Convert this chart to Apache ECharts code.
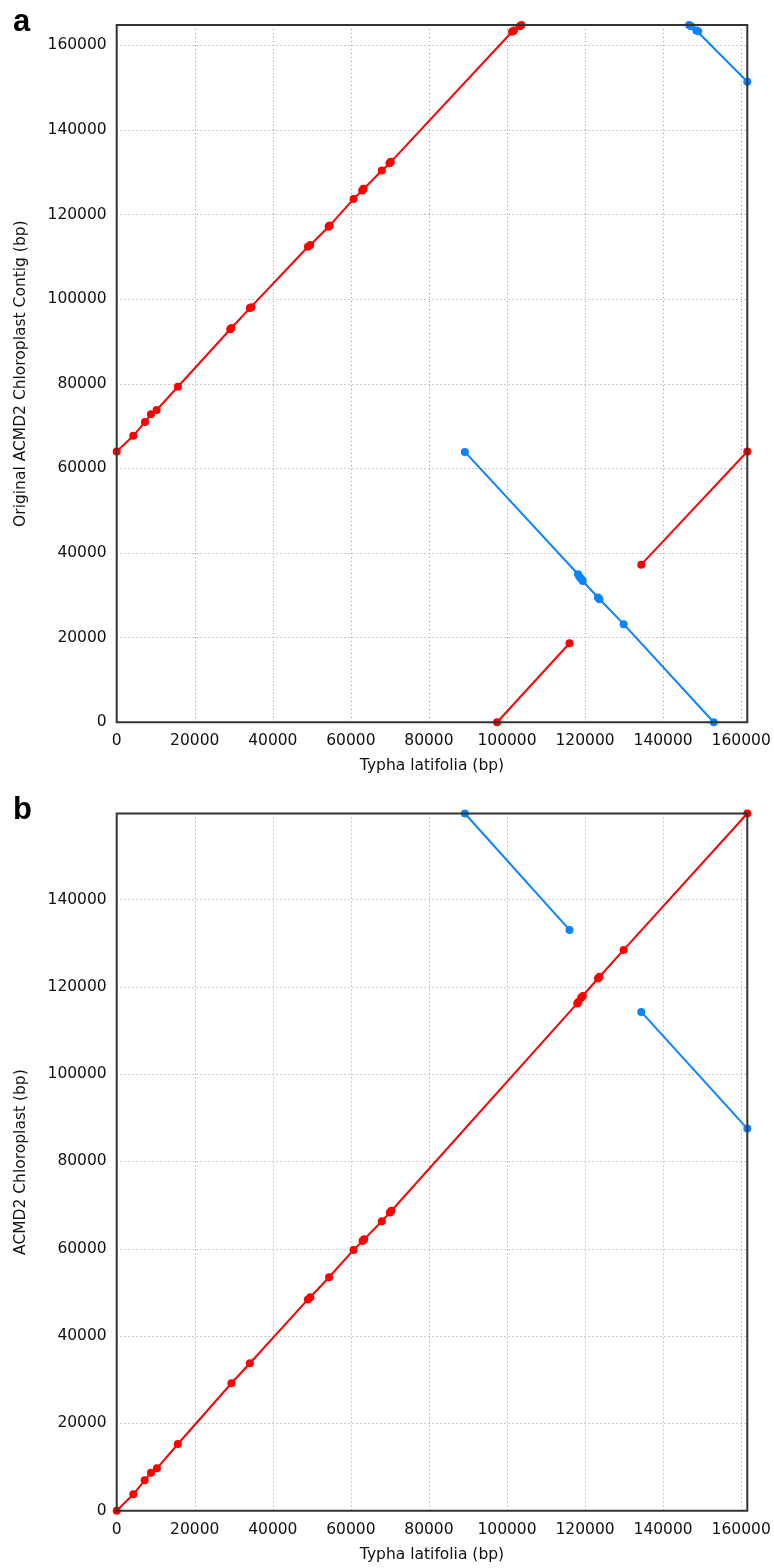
<!DOCTYPE html>
<html>
<head>
<meta charset="utf-8">
<script src="https://cdn.jsdelivr.net/npm/echarts@6/dist/echarts.min.js"></script>
<style>
html,body{margin:0;padding:0;background:#fff;}
#chart{width:774px;height:1568px;}
</style>
</head>
<body>
<div id="chart"></div>
<script>
// ---- Data ----
const X_MAX = 161572;          // Typha latifolia (bp)
const A_Y_MAX = 164800;        // Original ACMD2 Chloroplast Contig (bp)
const B_Y_MAX = 159700;        // ACMD2 Chloroplast (bp)
const TICK_STEP = 20000;

// Panel a
const A_RED_MAIN = [[0,64000],[4260,67700],[7250,71000],[8780,72800],[10240,73800],[15680,79300],[29100,92900],[29390,93200],[34130,97900],[34500,98100],[49000,112400],[49600,112800],[54300,117100],[54560,117400],[60690,123700],[62900,125700],[63240,126100],[67940,130400],[69900,132100],[70230,132500],[101300,163200],[101800,163500],[103300,164500],[103700,164800]];
const A_RED_LOW = [[97460,0],[116020,18680]];
const A_RED_RIGHT = [[134400,37260],[161572,64000]];
const A_BLUE_MAIN = [[89210,63900],[118200,35000],[118570,34400],[119000,33900],[119420,33400],[123300,29500],[123700,29100],[129890,23200],[152970,0]];
const A_BLUE_TOP = [[146660,164800],[147200,164500],[148500,163500],[149000,163300],[161572,151370]];

// Panel b
const B_RED = [[0,0],[4260,3760],[7170,6960],[8780,8710],[10310,9710],[15680,15280],[29390,29190],[34130,33770],[49000,48400],[49600,48900],[54400,53470],[60690,59730],[63000,61800],[63400,62200],[67940,66300],[70000,68300],[70400,68700],[118000,116200],[118310,116500],[119000,117500],[119420,117900],[123300,121900],[123700,122300],[129890,128460],[161572,159700]];
const B_BLUE_TOP = [[89210,159700],[116020,133040]];
const B_BLUE_RIGHT = [[134400,114250],[161572,87520]];

const X_TITLE = 'Typha latifolia (bp)';
const A_Y_TITLE = 'Original ACMD2 Chloroplast Contig (bp)';
const B_Y_TITLE = 'ACMD2 Chloroplast (bp)';

// ---- Styles ----
const RED = '#ff0000';
const BLUE = '#0a84ff';
const FONT = 'DejaVu Sans';

function fmt(v){ return (v % TICK_STEP === 0) ? String(v) : ''; }

function xAxis(gi){
  return {
    type:'value', gridIndex:gi, min:0, max:X_MAX, interval:TICK_STEP,
    name:X_TITLE, nameLocation:'middle', nameGap:36,
    nameTextStyle:{fontFamily:FONT,fontSize:15.5,color:'#111'},
    axisLine:{show:false}, axisTick:{show:false},
    axisLabel:{formatter:fmt,fontFamily:FONT,fontSize:15.5,color:'#111',margin:11,showMaxLabel:true},
    splitLine:{show:true,lineStyle:{color:'#999999',width:1,type:[1,3]}}
  };
}
function yAxis(gi,max,title){
  return {
    type:'value', gridIndex:gi, min:0, max:max, interval:TICK_STEP,
    name:title, nameLocation:'middle', nameGap:88,
    nameTextStyle:{fontFamily:FONT,fontSize:15.5,color:'#111'},
    axisLine:{show:false}, axisTick:{show:false},
    axisLabel:{formatter:fmt,fontFamily:FONT,fontSize:15.5,color:'#111',margin:10},
    splitLine:{show:true,lineStyle:{color:'#999999',width:1,type:[1,3]}}
  };
}
function seg(data,color,gi){
  return {
    type:'line', xAxisIndex:gi, yAxisIndex:gi, data:data,
    symbol:'circle', symbolSize:8, showSymbol:true, showAllSymbol:true,
    lineStyle:{color:color,width:2}, itemStyle:{color:color},
    animation:false, silent:true, clip:false, z:3
  };
}

const chart = echarts.init(document.getElementById('chart'), null, {renderer:'canvas'});
chart.setOption({
  backgroundColor:'#fff',
  animation:false,
  title:[
    {text:'a',left:8,top:2,textStyle:{fontFamily:'Liberation Sans',fontWeight:'bold',fontSize:31,color:'#000'}},
    {text:'b',left:8,top:790,textStyle:{fontFamily:'Liberation Sans',fontWeight:'bold',fontSize:31,color:'#000'}}
  ],
  grid:[
    {left:116.7,top:25,width:630.6,height:697.3,show:true,borderColor:'#333',borderWidth:2,backgroundColor:'transparent',containLabel:false,outerBoundsMode:'none',z:4},
    {left:116.7,top:813.5,width:630.6,height:697.2,show:true,borderColor:'#333',borderWidth:2,backgroundColor:'transparent',containLabel:false,outerBoundsMode:'none',z:4}
  ],
  xAxis:[xAxis(0),xAxis(1)],
  yAxis:[yAxis(0,A_Y_MAX,A_Y_TITLE),yAxis(1,B_Y_MAX,B_Y_TITLE)],
  series:[
    seg(A_RED_MAIN,RED,0),
    seg(A_RED_LOW,RED,0),
    seg(A_RED_RIGHT,RED,0),
    seg(A_BLUE_MAIN,BLUE,0),
    seg(A_BLUE_TOP,BLUE,0),
    seg(B_RED,RED,1),
    seg(B_BLUE_TOP,BLUE,1),
    seg(B_BLUE_RIGHT,BLUE,1)
  ]
});
</script>
</body>
</html>
